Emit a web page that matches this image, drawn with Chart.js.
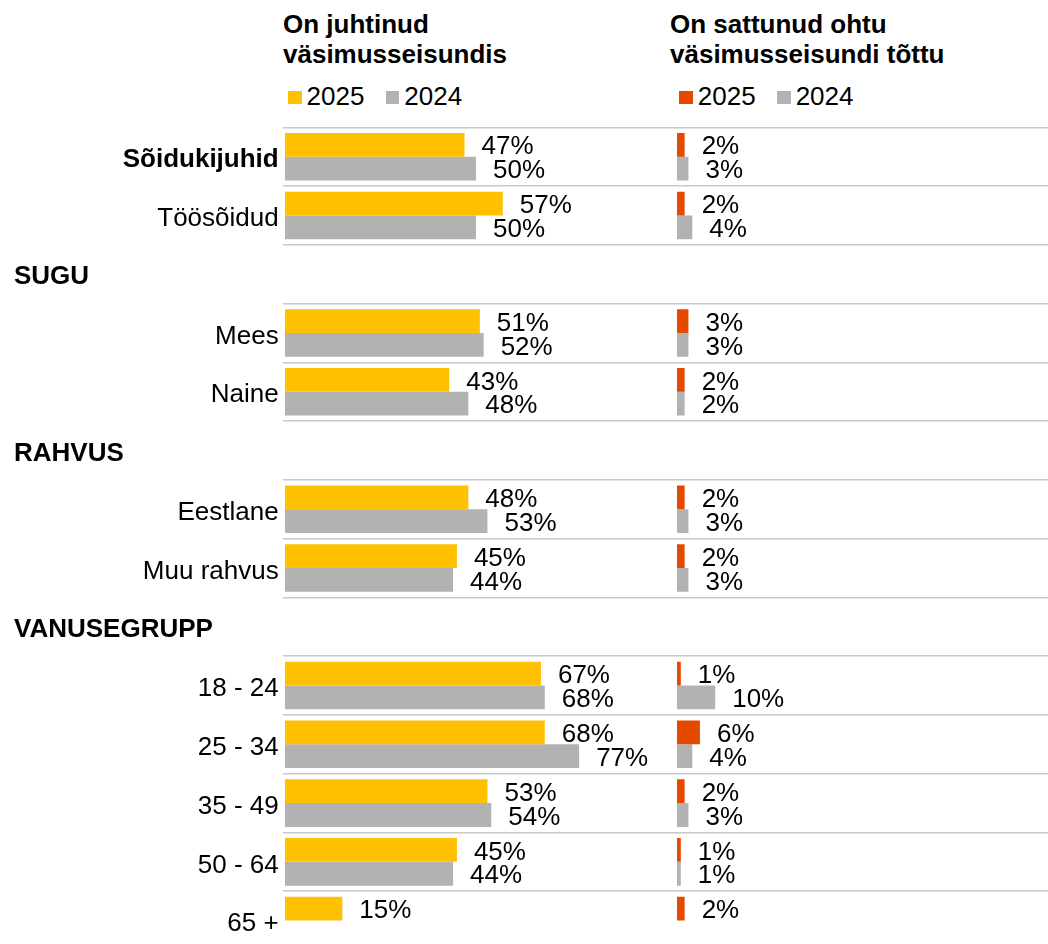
<!DOCTYPE html>
<html lang="et">
<head>
<meta charset="utf-8">
<title>Väsimusseisundis juhtimine</title>
<script src="https://cdn.jsdelivr.net/npm/chart.js@4.4.1/dist/chart.umd.min.js"></script>
<style>
  html, body { margin: 0; padding: 0; background: #fff; overflow: hidden; }
  body { width: 1048px; height: 944px; position: relative; font-family: "Liberation Sans", Arial, sans-serif; color: #000; }
  .title { position: absolute; top: 8.7px; margin: 0; font-weight: bold; font-size: 26px; line-height: 30.5px; }
  .legend { position: absolute; top: 82.5px; display: flex; font-size: 26px; line-height: 26px; }
  .legend .item { display: flex; align-items: center; margin-right: 21.5px; }
  .legend .box { display: inline-block; width: 13.5px; height: 13px; margin-right: 5px; position: relative; top: 1.5px; }
  canvas { position: absolute; top: 0; }
</style>
</head>
<body>
<div class="title" style="left:283px">On juhtinud<br>väsimusseisundis</div>
<div class="legend" id="legendLeft" style="left:288px"></div>
<div class="title" style="left:670px">On sattunud ohtu<br>väsimusseisundi tõttu</div>
<div class="legend" id="legendRight" style="left:679.3px"></div>

<canvas id="leftChart" width="660" height="950" style="left:0"></canvas>
<canvas id="rightChart" width="388" height="950" style="left:660px"></canvas>

<script>
// ---------------- Data -----------------------

const categories = [
  "Sõidukijuhid", "Töösõidud",
  "SUGU", "Mees", "Naine",
  "RAHVUS", "Eestlane", "Muu rahvus",
  "VANUSEGRUPP", "18 - 24", "25 - 34", "35 - 49", "50 - 64", "65 +"
];
const headerRows = ["SUGU", "RAHVUS", "VANUSEGRUPP"];
const boldRows = ["Sõidukijuhid"];
const years = ["2025", "2024"];

// On juhtinud väsimusseisundis (%)
const drove2025 = [47, 57, null, 51, 43, null, 48, 45, null, 67, 68, 53, 45, 15];
const drove2024 = [50, 50, null, 52, 48, null, 53, 44, null, 68, 77, 54, 44, null];

// On sattunud ohtu väsimusseisundi tõttu (%)
const danger2025 = [2, 2, null, 3, 2, null, 2, 2, null, 1, 6, 2, 1, 2];
const danger2024 = [3, 4, null, 3, 2, null, 3, 3, null, 10, 4, 3, 1, null];

// ---------------- Styling -----------------------

const YELLOW = "#FFC000";
const RED = "#E34A00";
const GRAY = "#B2B2B2";
const FONT = "'Liberation Sans', Arial, sans-serif";
const PX_PER_PCT = 3.82;

// value labels at the end of each bar
const valueLabels = {
  id: "valueLabels",
  afterDatasetsDraw(chart) {
    const ctx = chart.ctx;
    ctx.save();
    ctx.font = "26px " + FONT;
    ctx.fillStyle = "#000";
    ctx.textAlign = "left";
    ctx.textBaseline = "middle";
    chart.data.datasets.forEach((ds, i) => {
      chart.getDatasetMeta(i).data.forEach((bar, j) => {
        const v = ds.data[j];
        if (v === null || v === undefined) return;
        ctx.fillText(v + "%", bar.x + 17, bar.y + 2.5);
      });
    });
    ctx.restore();
  }
};

// group headers (SUGU, RAHVUS, ...) drawn flush left
const groupHeaders = {
  id: "groupHeaders",
  afterDraw(chart) {
    const y = chart.scales.y;
    const ctx = chart.ctx;
    ctx.save();
    ctx.font = "bold 26px " + FONT;
    ctx.fillStyle = "#000";
    ctx.textAlign = "left";
    ctx.textBaseline = "middle";
    categories.forEach((c, i) => {
      if (headerRows.includes(c)) ctx.fillText(c, 14, y.getPixelForValue(i) + 3);
    });
    ctx.restore();
  }
};

function makeChart(id, data2025, data2024, color2025, axisWidth, zeroOffset, showLabels) {
  const canvas = document.getElementById(id);
  const areaWidth = canvas.width - axisWidth;
  const xMin = -zeroOffset / PX_PER_PCT;
  return new Chart(canvas, {
    type: "bar",
    data: {
      labels: categories,
      datasets: [
        { label: years[0], data: data2025, backgroundColor: color2025 },
        { label: years[1], data: data2024, backgroundColor: GRAY }
      ]
    },
    options: {
      indexAxis: "y",
      responsive: false,
      animation: false,
      layout: { padding: { top: 127.3, right: 0, bottom: 0, left: 0 } },
      datasets: { bar: { categoryPercentage: 0.81, barPercentage: 1 } },
      plugins: { legend: { display: false }, tooltip: { enabled: false } },
      scales: {
        x: {
          display: false,
          min: xMin,
          max: xMin + areaWidth / PX_PER_PCT
        },
        y: {
          display: true,
          border: { display: false },
          grid: { color: "#C8C8C8", lineWidth: 1.5, drawTicks: false, offset: true },
          afterFit: (scale) => {
            scale.width = axisWidth;
            scale.paddingTop = 0;
            scale.paddingBottom = 0;
          },
          ticks: {
            display: showLabels,
            padding: 4,
            labelOffset: 3.5,
            color: "#000",
            font: (ctx) => ({
              family: FONT,
              size: 26,
              weight: boldRows.includes(categories[ctx.index]) ? "bold" : "normal"
            }),
            callback(value) {
              const lab = this.getLabelForValue(value);
              return headerRows.includes(lab) ? "" : lab;
            }
          }
        }
      }
    },
    plugins: showLabels ? [valueLabels, groupHeaders] : [valueLabels]
  });
}

function buildLegend(chart, elId) {
  const el = document.getElementById(elId);
  chart.data.datasets.forEach((ds) => {
    const item = document.createElement("span");
    item.className = "item";
    const box = document.createElement("span");
    box.className = "box";
    box.style.background = ds.backgroundColor;
    item.appendChild(box);
    item.appendChild(document.createTextNode(ds.label));
    el.appendChild(item);
  });
}

const leftChart = makeChart("leftChart", drove2025, drove2024, YELLOW, 282.7, 2.3, true);
const rightChart = makeChart("rightChart", danger2025, danger2024, RED, 0, 17, false);
buildLegend(leftChart, "legendLeft");
buildLegend(rightChart, "legendRight");
</script>
</body>
</html>
